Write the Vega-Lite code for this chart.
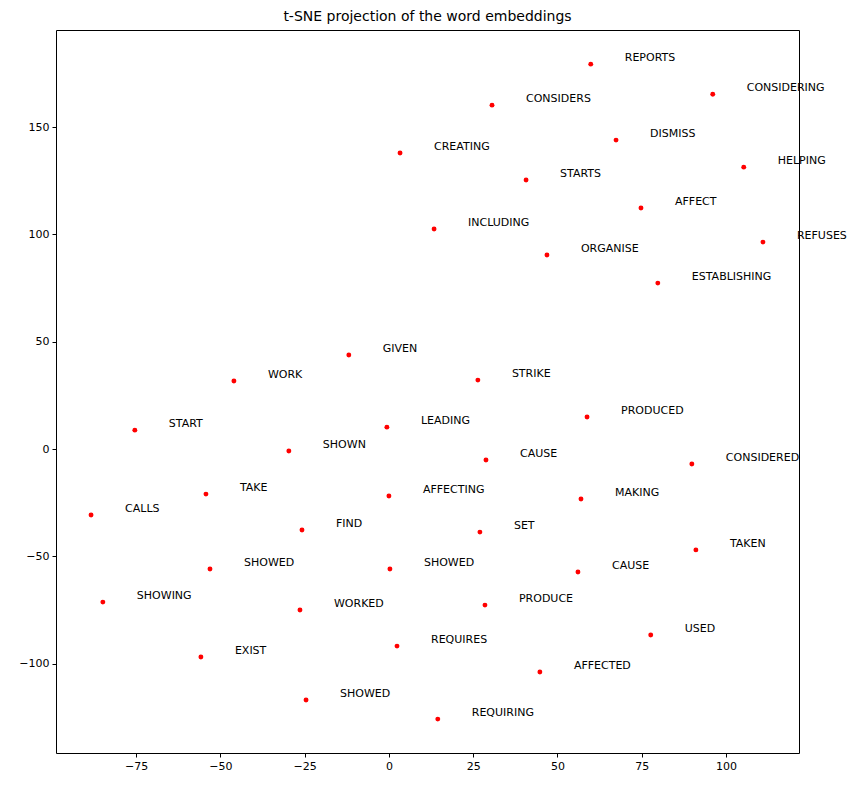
{
  "$schema": "https://vega.github.io/schema/vega-lite/v6.json",
  "width": 743,
  "height": 723,
  "autosize": "none",
  "padding": {"left": 56, "top": 30, "right": 62, "bottom": 33},
  "title": {"text": "t-SNE projection of the word embeddings", "fontSize": 14, "fontWeight": "normal", "font": "DejaVu Sans", "offset": 6, "color": "black"},
  "data": {"values": [
    {"x": 59.9, "y": 179.3, "word": "REPORTS"},
    {"x": 96.1, "y": 165.3, "word": "CONSIDERING"},
    {"x": 30.6, "y": 160.2, "word": "CONSIDERS"},
    {"x": 67.4, "y": 143.9, "word": "DISMISS"},
    {"x": 3.3, "y": 137.9, "word": "CREATING"},
    {"x": 105.3, "y": 131.3, "word": "HELPING"},
    {"x": 40.7, "y": 125.3, "word": "STARTS"},
    {"x": 74.8, "y": 112.3, "word": "AFFECT"},
    {"x": 13.4, "y": 102.5, "word": "INCLUDING"},
    {"x": 111, "y": 96.4, "word": "REFUSES"},
    {"x": 46.9, "y": 90.4, "word": "ORGANISE"},
    {"x": 79.8, "y": 77.3, "word": "ESTABLISHING"},
    {"x": -11.9, "y": 43.8, "word": "GIVEN"},
    {"x": -46, "y": 31.7, "word": "WORK"},
    {"x": 26.4, "y": 32.1, "word": "STRIKE"},
    {"x": 58.8, "y": 14.9, "word": "PRODUCED"},
    {"x": -75.4, "y": 8.8, "word": "START"},
    {"x": -0.6, "y": 10.2, "word": "LEADING"},
    {"x": -29.7, "y": -0.9, "word": "SHOWN"},
    {"x": 28.8, "y": -5.1, "word": "CAUSE"},
    {"x": 89.9, "y": -7, "word": "CONSIDERED"},
    {"x": -54.3, "y": -21, "word": "TAKE"},
    {"x": 0, "y": -21.9, "word": "AFFECTING"},
    {"x": 57, "y": -23.3, "word": "MAKING"},
    {"x": -88.4, "y": -30.7, "word": "CALLS"},
    {"x": -25.8, "y": -37.7, "word": "FIND"},
    {"x": 27, "y": -38.7, "word": "SET"},
    {"x": 91.1, "y": -47, "word": "TAKEN"},
    {"x": -53.1, "y": -55.9, "word": "SHOWED"},
    {"x": 0.3, "y": -55.9, "word": "SHOWED"},
    {"x": 56.1, "y": -57.3, "word": "CAUSE"},
    {"x": -84.9, "y": -71.3, "word": "SHOWING"},
    {"x": -26.4, "y": -75, "word": "WORKED"},
    {"x": 28.5, "y": -72.7, "word": "PRODUCE"},
    {"x": 77.7, "y": -86.6, "word": "USED"},
    {"x": 2.4, "y": -91.8, "word": "REQUIRES"},
    {"x": -55.8, "y": -96.9, "word": "EXIST"},
    {"x": 44.8, "y": -103.9, "word": "AFFECTED"},
    {"x": -24.6, "y": -116.9, "word": "SHOWED"},
    {"x": 14.5, "y": -125.8, "word": "REQUIRING"}
  ]},
  "encoding": {
    "x": {"field": "x", "type": "quantitative", "title": null,
      "scale": {"domain": [-98.8, 121.7], "nice": false, "zero": false},
      "axis": {"values": [-75, -50, -25, 0, 25, 50, 75, 100], "grid": false}},
    "y": {"field": "y", "type": "quantitative", "title": null,
      "scale": {"domain": [-141.6, 195.2], "nice": false, "zero": false},
      "axis": {"values": [-100, -50, 0, 50, 100, 150], "grid": false}}
  },
  "layer": [
    {"mark": {"type": "circle", "color": "red", "opacity": 1, "size": 24}},
    {"mark": {"type": "text", "align": "left", "baseline": "middle", "dx": 34, "dy": -6, "fontSize": 11, "font": "DejaVu Sans", "color": "black"},
     "encoding": {"text": {"field": "word"}}}
  ],
  "config": {
    "view": {"stroke": "black", "strokeWidth": 1},
    "axis": {"domain": false, "tickColor": "black", "tickSize": 4, "labelFontSize": 11, "labelFont": "DejaVu Sans", "labelColor": "black", "labelPadding": 3}
  }
}
